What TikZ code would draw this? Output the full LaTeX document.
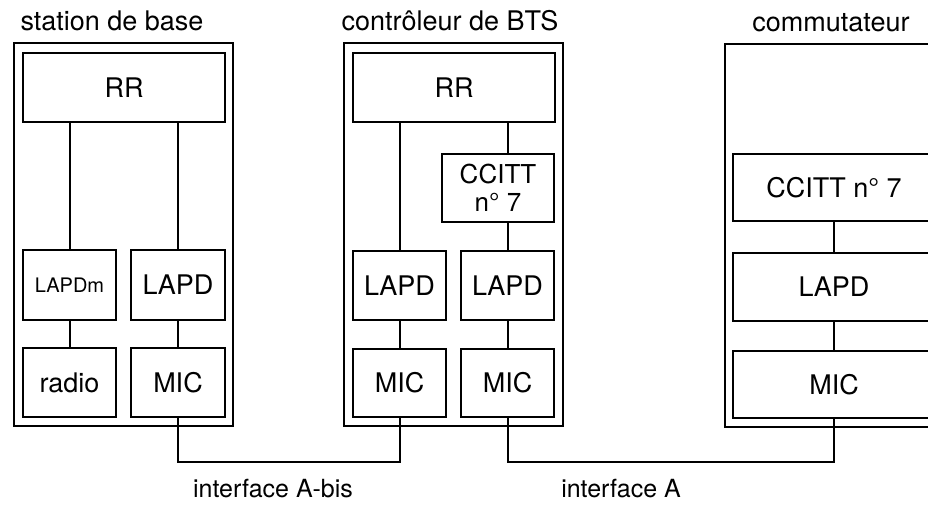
\documentclass[tikz,border=0pt]{standalone}
\usepackage{fontspec}
\setmainfont{TeX Gyre Heros}
\usetikzlibrary{positioning}

\begin{document}
\begin{tikzpicture}[x=1pt,y=-1pt,line width=2pt,
  frame node/.style={rectangle,draw,anchor=north west,inner sep=0pt},
  box node/.style={rectangle,draw,anchor=north west,inner sep=0pt,align=center,
    font=\fontsize{27}{30}\selectfont},
  small node/.style={box node,font=\fontsize{20}{22}\selectfont},
  title node/.style={anchor=base,font=\fontsize{27}{30}\selectfont},
  label node/.style={anchor=base,font=\fontsize{25}{28}\selectfont}]

  \useasboundingbox (0,0) rectangle (928,509);

  % station de base
  \node[title node] (t1) at (112,30) {station de base};
  \node[frame node,minimum width=219pt,minimum height=383pt] (1) at (13,42) {};
  \node[box node,minimum width=202pt,minimum height=69pt] (1rr) at (22,52) {RR};
  \node[small node,minimum width=93pt,minimum height=70pt] (1lapdm) at (22,249) {LAPDm};
  \node[box node,minimum width=94pt,minimum height=70pt] (1lapd) at (130,249) {LAPD};
  \node[box node,minimum width=93pt,minimum height=69pt] (1radio) at (22,347) {radio};
  \node[box node,minimum width=94pt,minimum height=69pt] (1mic) at (130,347) {MIC};

  % controleur de BTS
  \node[title node] (t2) at (450,30) {contrôleur de BTS};
  \node[frame node,minimum width=219pt,minimum height=383pt] (2) at (343,42) {};
  \node[box node,minimum width=202pt,minimum height=69pt] (2rr) at (352,52) {RR};
  \node[box node,minimum width=112pt,minimum height=68pt,font=\fontsize{26}{28}\selectfont] (2ccitt) at (441,153) {CCITT\\n° 7};
  \node[box node,minimum width=93pt,minimum height=69pt] (2lapda) at (352,250) {LAPD};
  \node[box node,minimum width=93pt,minimum height=69pt] (2lapdb) at (460,250) {LAPD};
  \node[box node,minimum width=93pt,minimum height=68pt] (2mica) at (352,348) {MIC};
  \node[box node,minimum width=93pt,minimum height=68pt] (2micb) at (460,348) {MIC};

  % commutateur
  \node[title node] (t3) at (831,31) {commutateur};
  \node[frame node,minimum width=240pt,minimum height=383pt] (3) at (724,43) {};
  \node[box node,minimum width=202pt,minimum height=67pt] (3ccitt) at (732,153) {CCITT n° 7};
  \node[box node,minimum width=202pt,minimum height=68pt] (3lapd) at (732,252) {LAPD};
  \node[box node,minimum width=202pt,minimum height=67pt] (3mic) at (732,350) {MIC};

  \coordinate (bus) at (0,462);

  \path
    (1lapdm.north |- 1rr.south) edge (1lapdm)
    (1lapd.north |- 1rr.south) edge (1lapd)
    (1lapdm) edge (1radio)
    (1lapd) edge (1mic)
    (2lapda.north |- 2rr.south) edge (2lapda)
    (2lapdb.north |- 2rr.south) edge (2lapdb.north |- 2ccitt.north)
    (2lapdb.north |- 2ccitt.south) edge (2lapdb)
    (2lapda) edge (2mica)
    (2lapdb) edge (2micb)
    (3ccitt) edge (3lapd)
    (3lapd) edge (3mic)
    ;

  \draw (1mic.south) -- (1mic.south |- bus) -| (2mica.south);
  \draw (2micb.south) -- (2micb.south |- bus) -| (3mic.south);

  \node[label node] (i1) at (273,497) {interface A-bis};
  \node[label node] (i2) at (621,497) {interface A};

\end{tikzpicture}
\end{document}
